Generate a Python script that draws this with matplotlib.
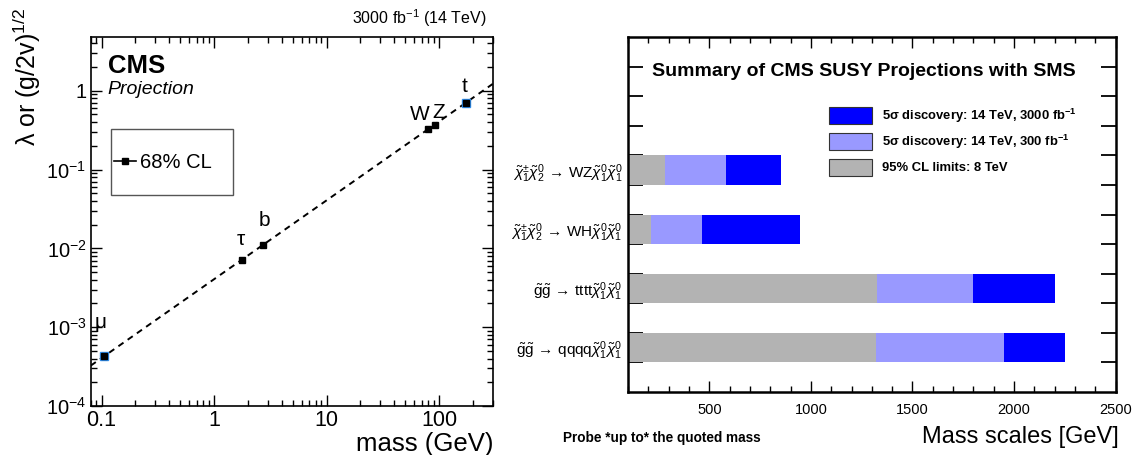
import matplotlib
matplotlib.use('Agg')
import matplotlib.pyplot as plt
from matplotlib.patches import Patch, Rectangle
from matplotlib.lines import Line2D
from matplotlib.ticker import FixedLocator, MultipleLocator, NullFormatter, LogLocator

plt.rcParams['mathtext.fontset'] = 'custom'
plt.rcParams['mathtext.rm'] = 'Liberation Sans'
plt.rcParams['mathtext.it'] = 'Liberation Sans:italic'
plt.rcParams['mathtext.bf'] = 'Liberation Sans:bold'
plt.rcParams['mathtext.sf'] = 'Liberation Sans'
plt.rcParams['font.family'] = ['Liberation Sans', 'DejaVu Sans']

NARROW = ['Liberation Sans Narrow', 'Liberation Sans', 'DejaVu Sans']

# ---------------- data: left panel ----------------
particles = ['μ', 'τ', 'b', 'W', 'Z', 't']
mass = [0.1057, 1.777, 2.75, 80.4, 91.19, 173.2]
coupling = [4.3e-4, 7.2e-3, 1.1e-2, 0.33, 0.37, 0.70]
blue_mass = [0.1057, 173.2]
blue_coupling = [4.25e-4, 0.69]
line_mass = [0.08, 300.0]
line_coupling = [3.25e-4, 1.22]
x_ticks = [0.1, 1, 10, 100]
x_tick_labels = ['0.1', '1', '10', '100']
y_ticks = [1e-4, 1e-3, 1e-2, 1e-1, 1]
y_tick_labels = [r'$10^{-4}$', r'$10^{-3}$', r'$10^{-2}$', r'$10^{-1}$', '1']

# ---------------- data: right panel ----------------
processes = [
    r'$\tilde{\mathrm{g}}\tilde{\mathrm{g}}\,\rightarrow\,\mathrm{qqqq}\tilde{\chi}^{0}_{1}\tilde{\chi}^{0}_{1}$',
    r'$\tilde{\mathrm{g}}\tilde{\mathrm{g}}\,\rightarrow\,\mathrm{tttt}\tilde{\chi}^{0}_{1}\tilde{\chi}^{0}_{1}$',
    r'$\tilde{\chi}^{\pm}_{1}\tilde{\chi}^{0}_{2}\,\rightarrow\,\mathrm{WH}\tilde{\chi}^{0}_{1}\tilde{\chi}^{0}_{1}$',
    r'$\tilde{\chi}^{\pm}_{1}\tilde{\chi}^{0}_{2}\,\rightarrow\,\mathrm{WZ}\tilde{\chi}^{0}_{1}\tilde{\chi}^{0}_{1}$',
]
process_pos = [1.5, 3.5, 5.5, 7.5]
limit_8tev = [1320, 1325, 213, 282]
disc_300 = [1950, 1800, 464, 582]
disc_3000 = [2250, 2200, 946, 853]
mass_start = 100
series_labels = [r'5σ discovery: 14 TeV, 3000 fb$^{\mathbf{-1}}$',
                 r'5σ discovery: 14 TeV, 300 fb$^{\mathbf{-1}}$',
                 '95% CL limits: 8 TeV']
series_colors = ['#0000ff', '#9999ff', '#b3b3b3']

W, H = 1135, 455
fig = plt.figure(figsize=(W / 100, H / 100), dpi=100)


def px(x0, y0, x1, y1):
    return [x0 / W, 1 - y1 / H, (x1 - x0) / W, (y1 - y0) / H]


# ================= left panel =================
ax = fig.add_axes(px(90.7, 36.7, 492.7, 406))
ax.set_xscale('log')
ax.set_yscale('log')
ax.set_xlim(0.08, 300)
ax.set_ylim(1e-4, 4.85)
ax.plot(line_mass, line_coupling, color='black', lw=1.4, ls=(0, (3.2, 2.6)), zorder=2)
ax.plot(blue_mass, blue_coupling, ls='none', marker='s', ms=5.5, mfc='#2f8fef', mec='#2f8fef', zorder=3)
ax.plot(mass, coupling, ls='none', marker='s', ms=4.5, mfc='black', mec='black', zorder=4)

offsets = [(-3, 24), (-1, 14.5), (0.5, 18), (-6, 10), (3, 9), (-1, 11.5)]
for name, m, c, off in zip(particles, mass, coupling, offsets):
    ax.annotate(name, (m, c), xytext=off, textcoords='offset points',
                ha='center', va='center', fontsize=15)

ax.xaxis.set_major_locator(FixedLocator(x_ticks))
ax.set_xticklabels(x_tick_labels)
ax.yaxis.set_major_locator(FixedLocator(y_ticks))
ax.set_yticklabels(y_tick_labels)
ax.xaxis.set_minor_locator(LogLocator(base=10, subs=range(2, 10), numticks=20))
ax.yaxis.set_minor_locator(LogLocator(base=10, subs=range(2, 10), numticks=20))
ax.xaxis.set_minor_formatter(NullFormatter())
ax.yaxis.set_minor_formatter(NullFormatter())
ax.tick_params(which='both', direction='in', top=True, right=True, width=1.0)
ax.tick_params(axis='x', which='major', labelsize=15.5, pad=3)
ax.tick_params(axis='y', which='major', labelsize=14.5, pad=3)
ax.tick_params(which='major', length=8)
ax.tick_params(which='minor', length=4.5)
for s in ax.spines.values():
    s.set_linewidth(1.2)

ax.text(0.042, 0.92, 'CMS', transform=ax.transAxes, fontsize=18.5, fontweight='bold', ha='left', va='center')
ax.text(0.042, 0.858, 'Projection', transform=ax.transAxes, fontsize=14, style='italic', ha='left', va='center')

# legend
fig.patches.append(Rectangle((110.7 / W, 1 - 195 / H), (233 - 110.7) / W, (195 - 129) / H,
                             transform=fig.transFigure, fill=False, edgecolor='#555555', lw=1.0))
h = Line2D([], [], color='black', lw=1.2, marker='s', ms=4.5)
leg = ax.legend([h], ['68% CL'], loc='center left', bbox_to_anchor=(114 / W, 1 - 163 / H),
                bbox_transform=fig.transFigure, frameon=False, fontsize=14.5, handlelength=1.1,
                handletextpad=0.2, borderpad=0, borderaxespad=0)

fig.text(486 / W, 1 - 18 / H, r'3000 fb$^{-1}$ (14 TeV)', ha='right', va='center', fontsize=11.5)
fig.text(27 / W, 1 - 8 / H, r'λ or (g/2v)$^{1/2}$', rotation=90, ha='center', va='top', fontsize=18)
fig.text(493 / W, 1 - 432 / H, 'mass (GeV)', ha='right', va='top', fontsize=18.5)

# ================= right panel =================
bx = fig.add_axes(px(628, 37.3, 1115.7, 391.7))
bx.set_xlim(100, 2500)
bx.set_ylim(0, 12)
for vals, col in zip([disc_3000, disc_300, limit_8tev], series_colors):
    bx.barh(process_pos, [v - mass_start for v in vals], left=mass_start, height=1.0,
            color=col, edgecolor='none', zorder=2)

bx.set_yticks([i for i in range(1, 12)])
bx.set_yticklabels([])
bx.set_yticks(process_pos, minor=True)
bx.set_yticklabels(processes, minor=True, fontsize=11)
bx.tick_params(axis='y', which='major', direction='in', left=True, right=True, length=11, width=1.3)
bx.tick_params(axis='y', which='minor', length=0, pad=4)
bx.xaxis.set_major_locator(MultipleLocator(500))
bx.xaxis.set_minor_locator(MultipleLocator(100))
bx.tick_params(axis='x', which='both', direction='in', top=True, bottom=True, width=1.0)
bx.tick_params(axis='x', which='major', length=8, labelsize=10.5, pad=8)
bx.tick_params(axis='x', which='minor', length=4.5)
for lab in bx.get_xticklabels():
    lab.set_family(NARROW)
for s in bx.spines.values():
    s.set_linewidth(1.8)

handles = [Patch(facecolor=c, edgecolor='#333333', lw=0.8) for c in series_colors]
bx.legend(handles, series_labels, loc='upper left', bbox_to_anchor=(829.3 / W, 1 - 106.7 / H),
          bbox_transform=fig.transFigure, frameon=False, borderpad=0, borderaxespad=0,
          handlelength=3.3, handleheight=1.6, labelspacing=0.6, handletextpad=0.7,
          prop={'family': NARROW, 'weight': 'bold', 'size': 9.4})

bx.text(863.4 / W, 1 - 71.7 / H, 'Summary of CMS SUSY Projections with SMS', transform=fig.transFigure,
        ha='center', va='center', fontsize=14, fontweight='bold', family=NARROW)
fig.text(563 / W, 1 - 438 / H, 'Probe *up to* the quoted mass', ha='left', va='center',
         fontsize=9.8, fontweight='bold', family=NARROW)
fig.text(1119 / W, 1 - 437 / H, 'Mass scales [GeV]', ha='right', va='center', fontsize=17, family=NARROW)

fig.savefig('out.png', dpi=100)
